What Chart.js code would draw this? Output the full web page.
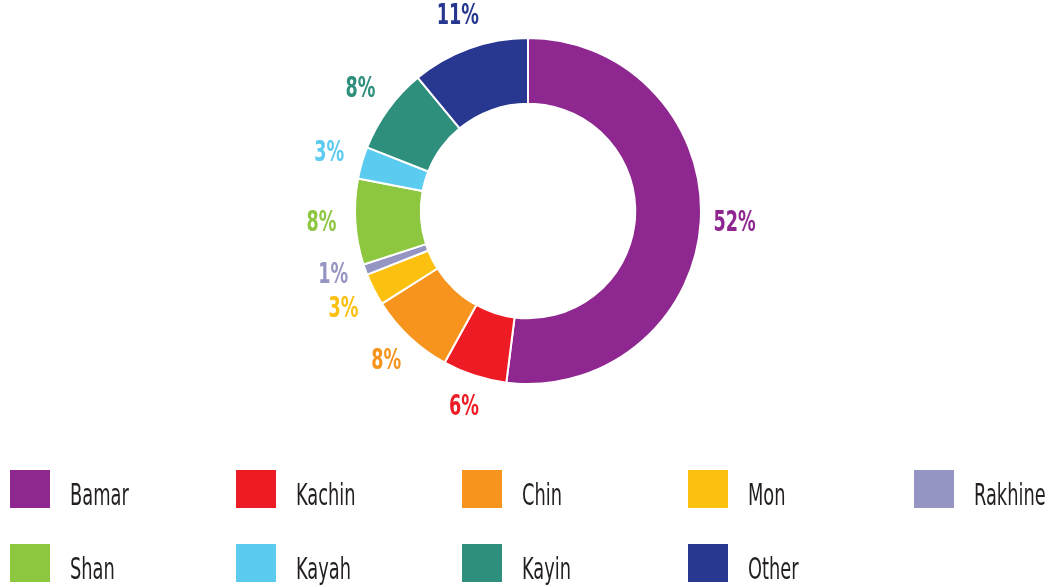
<!DOCTYPE html>
<html>
<head>
<meta charset="utf-8">
<script src="https://cdn.jsdelivr.net/npm/chart.js@4"></script>
<style>
  html, body { margin: 0; padding: 0; background: #fff; }
  body { width: 1056px; height: 587px; position: relative; overflow: hidden; }
  #wrap { position: absolute; left: 0; top: 0; width: 1056px; height: 430px; }
  #legend { position: absolute; left: 0; top: 0; width: 1056px; height: 587px; pointer-events: none; }
  .item { position: absolute; height: 38px; }
  .box { position: absolute; left: 0; top: 0; width: 40px; height: 38px; }
  .lbl {
    position: absolute; left: 60px; bottom: -4px; white-space: nowrap;
    font-family: "Liberation Sans Narrow", "DejaVu Sans Condensed", sans-serif;
    font-size: 30px; color: #231f20;
    transform: scaleX(0.66); transform-origin: left bottom;
  }
</style>
</head>
<body>
<div id="wrap"><canvas id="chart"></canvas></div>
<div id="legend"></div>
<script>
// groups and their share (percent)
const groups = ["Bamar", "Kachin", "Chin", "Mon", "Rakhine", "Shan", "Kayah", "Kayin", "Other"];
const shares = [52, 6, 8, 3, 1, 8, 3, 8, 11];
const colors = ["#8e278f", "#ed1c24", "#f7941d", "#fcc010", "#9595c3", "#8dc63f", "#5bcbf0", "#2e8f7d", "#283890"];

// percent labels outside each slice
const outsideLabels = {
  id: "outsideLabels",
  afterDatasetsDraw(chart) {
    const ctx = chart.ctx;
    const meta = chart.getDatasetMeta(0);
    const pos = meta.data.map(arc => {
      const mid = (arc.startAngle + arc.endAngle) / 2;
      const r = arc.outerRadius + 34;
      return { x: arc.x + Math.cos(mid) * r, y: arc.y + Math.sin(mid) * r };
    });
    // spread out neighbours that sit too close vertically
    const minGap = 34;
    for (let i = 1; i < pos.length; i++) {
      const a = pos[i - 1], b = pos[i];
      const dy = Math.abs(a.y - b.y);
      if (Math.abs(a.x - b.x) < 40 && dy < minGap) {
        const push = (minGap - dy) / 2;
        if (a.y > b.y) { a.y += push; b.y -= push; } else { a.y -= push; b.y += push; }
      }
    }
    ctx.save();
    ctx.font = "bold 28px 'Liberation Sans Narrow', 'DejaVu Sans Condensed', sans-serif";
    ctx.textAlign = "center";
    ctx.textBaseline = "middle";
    pos.forEach((p, i) => {
      ctx.save();
      ctx.translate(p.x, p.y);
      ctx.scale(0.7, 1);
      ctx.fillStyle = colors[i];
      ctx.fillText(shares[i] + "%", 0, 0);
      ctx.restore();
    });
    ctx.restore();
  }
};

new Chart(document.getElementById("chart"), {
  type: "doughnut",
  data: {
    labels: groups,
    datasets: [{
      data: shares,
      backgroundColor: colors,
      borderColor: "#ffffff",
      borderWidth: 2,
      hoverOffset: 0
    }]
  },
  options: {
    responsive: true,
    maintainAspectRatio: false,
    animation: false,
    cutout: "62%",
    layout: { padding: { top: 37, bottom: 45 } },
    plugins: {
      legend: { display: false },
      tooltip: { enabled: false }
    }
  },
  plugins: [outsideLabels]
});

// legend grid: 5 columns, 2 rows
const legend = document.getElementById("legend");
groups.forEach((g, i) => {
  const col = i % 5;
  const row = Math.floor(i / 5);
  const item = document.createElement("div");
  item.className = "item";
  item.style.left = (10 + col * 226) + "px";
  item.style.top = (470 + row * 74) + "px";
  item.innerHTML = '<div class="box" style="background:' + colors[i] + '"></div><span class="lbl">' + g + '</span>';
  legend.appendChild(item);
});
</script>
</body>
</html>
